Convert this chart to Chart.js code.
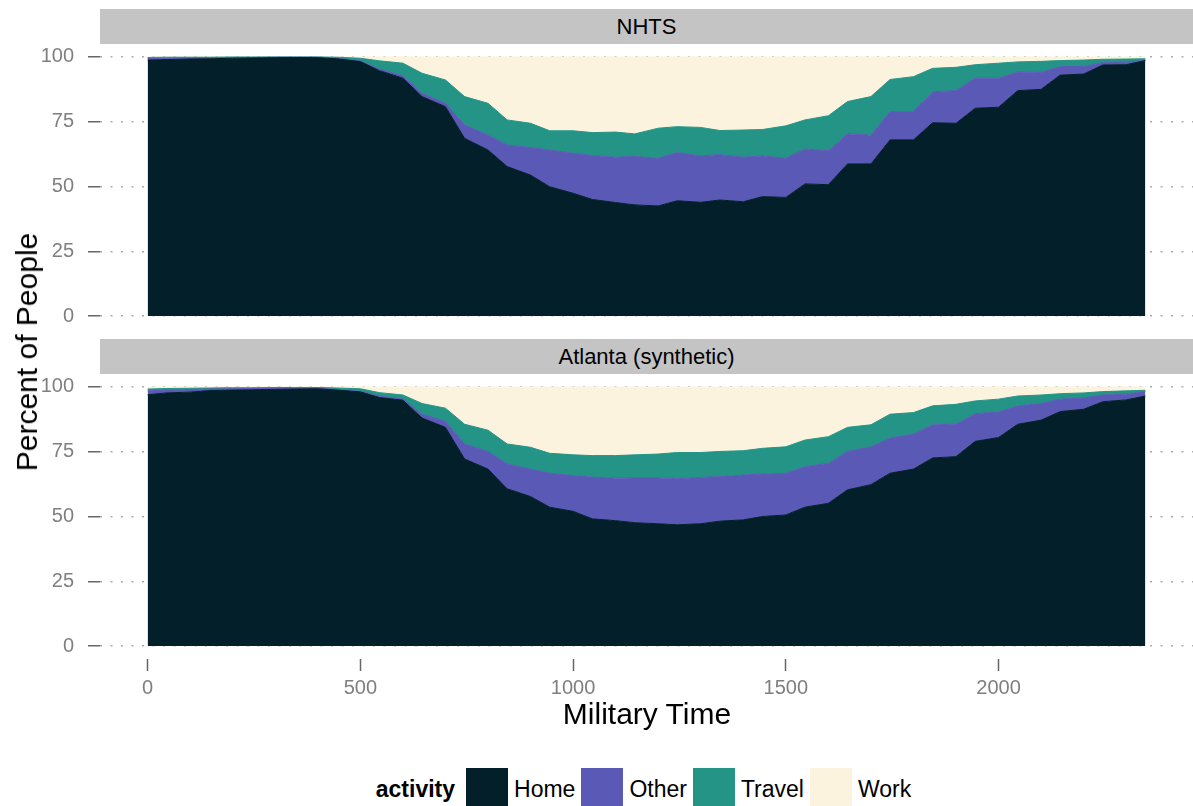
<!DOCTYPE html>
<html>
<head>
<meta charset="utf-8">
<script src="https://cdn.jsdelivr.net/npm/chart.js@4.4.0/dist/chart.umd.min.js"></script>
<style>
  body { margin: 0; background: #fff; font-family: "Liberation Sans", Arial, sans-serif; }
  #wrap { position: relative; width: 1193px; height: 806px; overflow: hidden; }
  .strip { position: absolute; left: 100px; width: 1093px; height: 35px; background: #c4c4c4;
           color: #000; font-size: 22px; line-height: 35px; text-align: center; }
  canvas { position: absolute; left: 0; }
  #ytitle { position: absolute; left: 27px; top: 352px; transform: translate(-50%, -50%) rotate(-90deg);
            font-size: 30px; white-space: nowrap; }
  #xtitle { position: absolute; left: 647px; top: 714px; transform: translate(-50%, -50%);
            font-size: 30px; white-space: nowrap; }
  #legend { position: absolute; top: 768px; left: 100px; width: 1093px; display: flex;
            justify-content: center; align-items: center; font-size: 23px; }
  #legend .title { font-weight: bold; margin-right: 11px; }
  #legend .key { width: 42px; height: 42px; margin-right: 6px; }
  #legend .lab { margin-right: 6px; }
</style>
</head>
<body>
<div id="wrap">
  <div class="strip" style="top:9px">NHTS</div>
  <canvas id="nhts" width="1193" height="285" style="top:44px"></canvas>
  <div class="strip" style="top:339px">Atlanta (synthetic)</div>
  <canvas id="atl" width="1193" height="335" style="top:374px"></canvas>
  <div id="ytitle">Percent of People</div>
  <div id="xtitle">Military Time</div>
  <div id="legend"></div>
</div>
<script>
// military time of each sample
const times = [0, 45, 100, 145, 200, 245, 300, 345, 400, 445, 500, 545, 600, 645, 700, 745,
  800, 845, 900, 945, 1000, 1045, 1100, 1145, 1200, 1245, 1300, 1345, 1400, 1445, 1500, 1545,
  1600, 1645, 1700, 1745, 1800, 1845, 1900, 1945, 2000, 2045, 2100, 2145, 2200, 2245, 2300, 2345];

const activities = ['Home', 'Other', 'Travel', 'Work'];

// NHTS, percent of people per activity
const nhtsHome = [98.8, 99.0, 99.2, 99.3, 99.5, 99.6, 99.7, 99.8, 99.7, 99.3, 98.2, 94.7, 91.8, 84.7, 80.8, 68.6,
  64.1, 57.7, 54.4, 49.9, 47.4, 45.0, 43.8, 42.9, 42.5, 44.5, 43.9, 44.8, 44.1, 46.1, 45.8, 51.0,
  50.7, 58.7, 58.7, 68.0, 68.0, 74.6, 74.4, 80.2, 80.6, 87.0, 87.5, 93.0, 93.4, 96.9, 97.0, 98.6];
const nhtsOther = [0.6, 0.5, 0.4, 0.4, 0.3, 0.2, 0.2, 0.1, 0.2, 0.2, 0.3, 0.6, 0.9, 1.3, 1.3, 5.1,
  5.8, 8.3, 10.6, 14.2, 15.4, 17.0, 17.5, 18.7, 18.4, 18.6, 17.9, 17.5, 17.2, 15.7, 15.1, 13.5,
  13.1, 11.6, 11.1, 10.9, 10.9, 12.0, 12.6, 11.6, 11.2, 7.2, 6.5, 3.3, 2.9, 0.9, 0.9, 0.2];
const nhtsTravel = [0.4, 0.4, 0.3, 0.2, 0.2, 0.2, 0.1, 0.1, 0.1, 0.4, 1.0, 3.2, 4.9, 7.7, 9.0, 11.0,
  12.2, 9.7, 9.4, 7.4, 8.7, 8.8, 9.7, 8.7, 11.6, 10.0, 11.0, 9.3, 10.5, 10.2, 12.5, 11.2,
  13.5, 12.5, 14.9, 12.4, 13.5, 9.0, 9.0, 5.2, 5.8, 3.9, 4.3, 2.3, 2.5, 1.3, 1.3, 0.5];
const nhtsWork = [0.2, 0.1, 0.1, 0.1, 0.0, 0.0, 0.0, 0.0, 0.0, 0.1, 0.5, 1.5, 2.4, 6.3, 8.9, 15.3,
  17.9, 24.3, 25.6, 28.5, 28.5, 29.2, 29.0, 29.7, 27.5, 26.9, 27.2, 28.4, 28.2, 28.0, 26.6, 24.3,
  22.7, 17.2, 15.3, 8.7, 7.6, 4.4, 4.0, 3.0, 2.4, 1.9, 1.7, 1.4, 1.2, 0.9, 0.8, 0.7];

// Atlanta (synthetic)
const atlHome = [97.0, 97.7, 98.0, 98.6, 98.8, 98.9, 99.1, 99.2, 99.3, 98.8, 98.1, 95.9, 94.9, 88.0, 84.4, 72.2,
  68.3, 60.7, 57.7, 53.6, 52.0, 49.1, 48.4, 47.6, 47.2, 46.8, 47.2, 48.2, 48.7, 50.0, 50.6, 53.6,
  55.1, 60.3, 62.3, 66.7, 68.3, 72.6, 73.1, 79.0, 80.5, 85.6, 87.2, 90.5, 91.4, 94.3, 95.0, 96.5];
const atlOther = [1.5, 1.1, 1.0, 0.6, 0.5, 0.5, 0.4, 0.3, 0.3, 0.2, 0.2, 0.6, 0.4, 1.5, 2.3, 5.8,
  6.8, 9.6, 10.6, 13.1, 13.8, 16.1, 16.4, 17.3, 17.7, 17.8, 17.9, 17.2, 17.3, 16.4, 16.1, 15.6,
  15.4, 14.8, 14.6, 13.6, 13.5, 12.8, 12.5, 10.7, 9.8, 7.1, 6.4, 4.8, 4.3, 2.6, 2.2, 1.7];
const atlTravel = [0.7, 0.6, 0.5, 0.4, 0.4, 0.3, 0.3, 0.3, 0.2, 0.6, 1.0, 1.3, 1.6, 4.1, 5.1, 7.6,
  8.2, 7.7, 8.4, 7.7, 8.0, 8.3, 8.7, 8.9, 9.2, 10.1, 9.6, 9.7, 9.4, 9.9, 10.2, 10.3,
  10.3, 9.3, 8.5, 9.2, 8.3, 7.3, 7.7, 4.9, 5.0, 3.8, 3.3, 2.1, 2.0, 1.3, 1.3, 0.5];
const atlWork = [0.8, 0.6, 0.5, 0.4, 0.3, 0.3, 0.2, 0.2, 0.2, 0.4, 0.7, 2.2, 3.1, 6.4, 8.2, 14.4,
  16.7, 22.0, 23.3, 25.6, 26.2, 26.5, 26.5, 26.2, 25.9, 25.3, 25.3, 24.9, 24.6, 23.7, 23.1, 20.5,
  19.2, 15.6, 14.6, 10.5, 9.9, 7.3, 6.7, 5.4, 4.7, 3.5, 3.1, 2.6, 2.3, 1.8, 1.5, 1.3];

const xTicks = [0, 500, 1000, 1500, 2000];
const yTicks = [0, 25, 50, 75, 100];

const palette = ['#031f2a', '#5a5ab6', '#249486', '#fbf3dd'];
Chart.defaults.font.family = '"Liberation Sans", Arial, sans-serif';

const makeChart = (id, series, showX) => {
    const datasets = series.map((vals, k) => ({
        label: activities[k],
        data: vals.map((v, i) => ({ x: times[i], y: v })),
        backgroundColor: palette[k],
        borderColor: palette[k],
        borderWidth: 1,
        pointRadius: 0,
        tension: 0,
        fill: k === 0 ? 'origin' : '-1'
    }));

    return new Chart(document.getElementById(id), {
        type: 'line',
        data: { datasets },
        options: {
            responsive: false,
            animation: false,
            layout: { padding: 0 },
            plugins: { legend: { display: false }, tooltip: { enabled: false } },
            scales: {
                x: {
                    type: 'linear',
                    min: -112,
                    max: 2457,
                    display: showX,
                    afterBuildTicks: s => { s.ticks = xTicks.map(v => ({ value: v })); },
                    ticks: { color: '#7f7f7f', font: { size: 20 }, padding: 5, maxRotation: 0,
                             callback: v => String(v) },
                    grid: { drawOnChartArea: false, tickLength: 12, tickColor: '#666', tickWidth: 1.5 },
                    border: { display: false },
                    afterFit: s => {
                        s.height = showX ? 50 : 0;
                        s.paddingLeft = 0;
                        s.paddingRight = 0;
                    }
                },
                y: {
                    stacked: true,
                    min: -5,
                    max: 105,
                    afterBuildTicks: s => { s.ticks = yTicks.map(v => ({ value: v })); },
                    ticks: { color: '#7f7f7f', font: { size: 20 }, padding: 14 },
                    grid: { color: '#ababab', lineWidth: 1.5, tickLength: 12, tickColor: '#666',
                            tickWidth: 1.5, tickBorderDash: [] },
                    border: { display: false, dash: [2, 8.5] },
                    afterFit: s => { s.width = 100; s.paddingTop = 0; s.paddingBottom = 0; }
                }
            }
        }
    });
};

makeChart('nhts', [nhtsHome, nhtsOther, nhtsTravel, nhtsWork], false);
makeChart('atl', [atlHome, atlOther, atlTravel, atlWork], true);

// legend
const legend = document.getElementById('legend');
const title = document.createElement('span');
title.className = 'title';
title.textContent = 'activity';
legend.appendChild(title);
activities.forEach((name, k) => {
    const key = document.createElement('span');
    key.className = 'key';
    key.style.background = palette[k];
    const lab = document.createElement('span');
    lab.className = 'lab';
    lab.textContent = name;
    legend.appendChild(key);
    legend.appendChild(lab);
});
</script>
</body>
</html>
